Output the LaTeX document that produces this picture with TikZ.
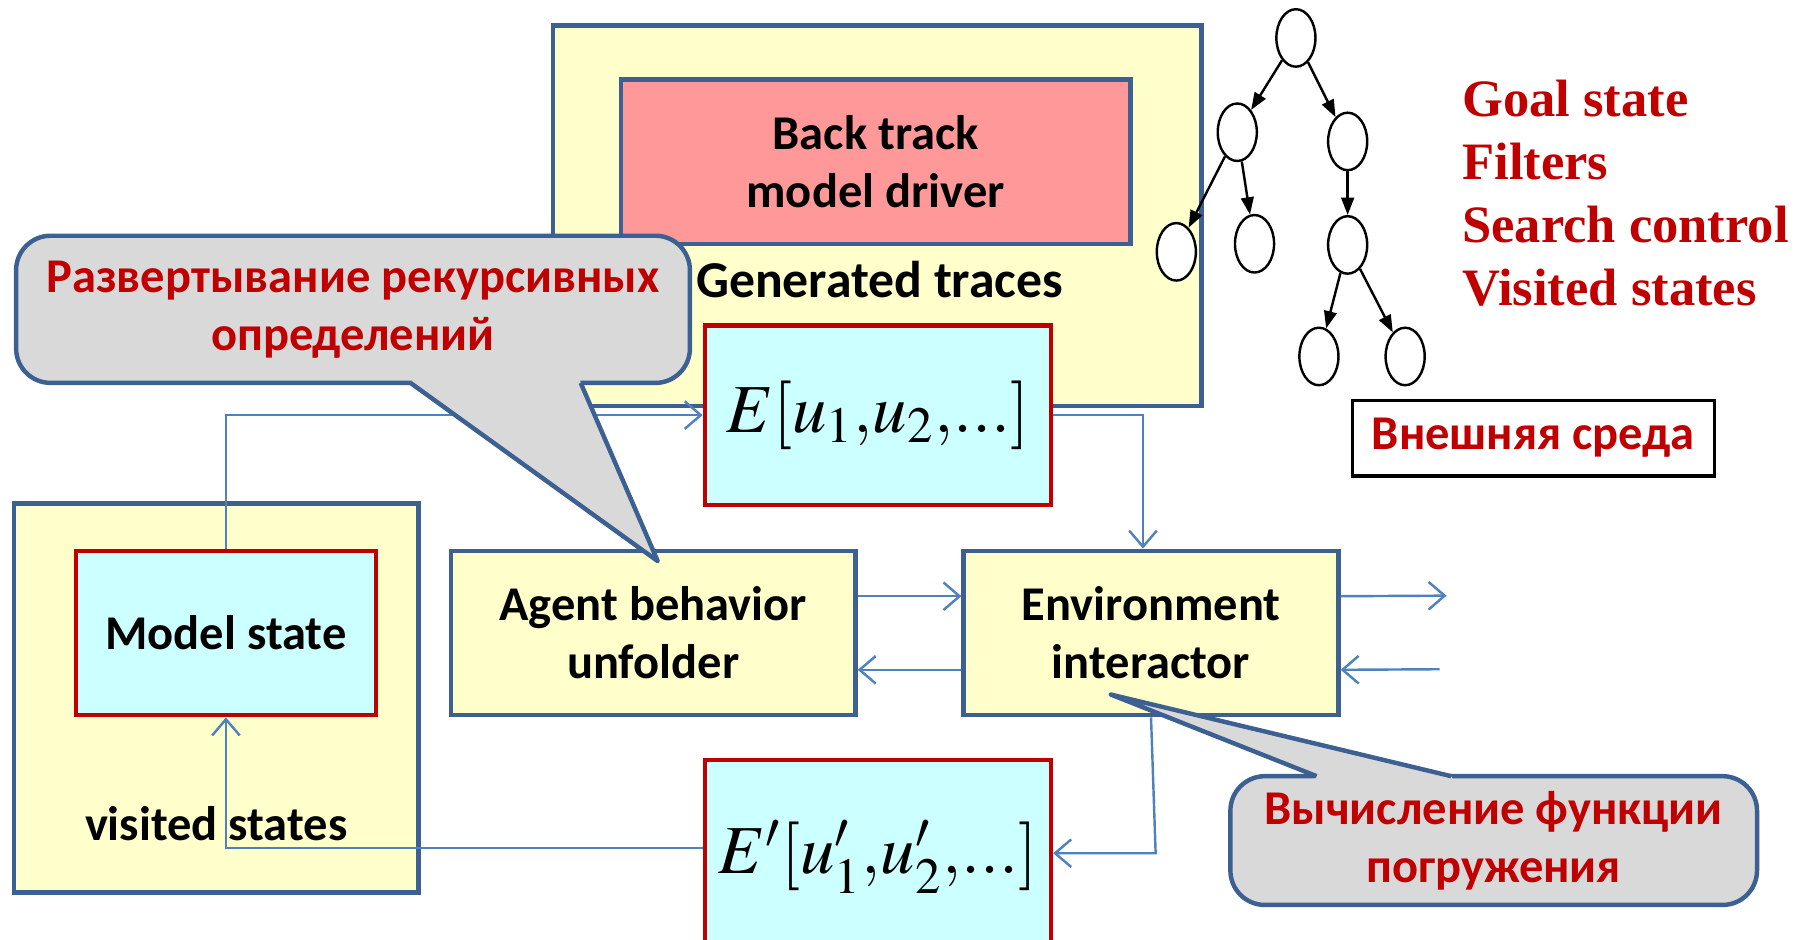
\documentclass[tikz,border=0pt]{standalone}
\usepackage{mathptmx}
\usepackage{fontspec}
\setmainfont{Carlito}
\newfontfamily\timesfont{Liberation Serif}
\usetikzlibrary{positioning,arrows.meta,shapes.geometric}
\definecolor{boxblue}{RGB}{60,96,146}
\definecolor{boxred}{RGB}{192,0,0}
\definecolor{paleyellow}{RGB}{255,255,204}
\definecolor{palecyan}{RGB}{204,255,255}
\definecolor{palepink}{RGB}{255,153,153}
\definecolor{calloutgray}{RGB}{217,217,217}
\definecolor{linkblue}{RGB}{79,129,189}
\newcommand{\labelfont}{\fontsize{12}{14.4}\selectfont\bfseries}
\newcommand{\formulafont}{\fontsize{17}{20}\selectfont}

\begin{document}
\begin{tikzpicture}[
  box/.style={draw=boxblue, line width=1.1pt, fill=paleyellow, align=center, inner sep=0pt, font=\labelfont},
  statebox/.style={box, draw=boxred, fill=palecyan},
  callout/.style={draw=boxblue, line width=1.1pt, fill=calloutgray, rounded corners=3mm, align=center, inner sep=0pt, text=boxred, font=\labelfont},
  pointer/.style={draw=boxblue, line width=1.1pt, line join=round},
  link/.style={draw=linkblue, line width=0.6pt, -{Straight Barb[length=1.4mm,width=2.4mm]}},
  tnode/.style={draw, ellipse, fill=white, line width=0.6pt, minimum width=3.4mm, minimum height=5mm, inner sep=0pt},
  tedge/.style={line width=0.6pt, -{Triangle[length=1.5mm,width=1.1mm]}},
]
\useasboundingbox (0,0) rectangle (15.68,-8.17);

% search part
\node[box, minimum width=5.64cm, minimum height=3.31cm] (traces) at (7.63,-1.875) {};
\node[box, fill=palepink, minimum width=4.43cm, minimum height=1.43cm] (driver) at (7.615,-1.405) {Back track\\model driver};
\node[font={\fontsize{12.8}{15}\selectfont\bfseries}, inner sep=0pt] (gentxt) at (7.65,-2.43) {Generated traces};
\node[statebox, minimum width=3.01cm, minimum height=1.56cm] (Ein) at (7.635,-3.61) {\formulafont$E[u_1{,}u_2{,}...]$};

% tree
\node[tnode] (t0) at (11.27,-0.33) {};
\node[tnode] (t1) at (10.76,-1.15) {};
\node[tnode] (t2) at (11.72,-1.23) {};
\node[tnode] (t11) at (10.23,-2.19) {};
\node[tnode] (t12) at (10.91,-2.12) {};
\node[tnode] (t21) at (11.72,-2.13) {};
\node[tnode] (t211) at (11.47,-3.10) {};
\node[tnode] (t212) at (12.22,-3.10) {};
\draw[tedge] (t0) -- (t1);
\draw[tedge] (t0) -- (t2);
\draw[tedge] (t1) -- (t11);
\draw[tedge] (t1) -- (t12);
\draw[tedge] (t2) -- (t21);
\draw[tedge] (t21) -- (t211);
\draw[tedge] (t21) -- (t212);

\node[anchor=north west, align=left, inner sep=0pt, text=boxred,
  font={\timesfont\bfseries\fontsize{13}{15.6}\selectfont}] (goals) at (12.71,-0.69)
  {Goal state\\Filters\\Search control\\Visited states};
\node[draw, line width=0.8pt, fill=white, text=boxred, font=\labelfont,
  minimum width=3.15cm, minimum height=0.66cm] (ext) at (13.335,-3.81) {Внешняя среда};

% model part
\node[box, minimum width=3.52cm, minimum height=3.38cm] (visited) at (1.88,-6.07) {};
\node[statebox, minimum width=2.61cm, minimum height=1.43cm] (model) at (1.965,-5.505) {Model state};
\node[font=\labelfont, inner sep=0pt] (vistxt) at (1.88,-7.16) {visited states};
\node[box, minimum width=3.52cm, minimum height=1.43cm] (agent) at (5.68,-5.505) {Agent behavior\\unfolder};
\node[box, minimum width=3.26cm, minimum height=1.43cm] (env) at (10.01,-5.505) {Environment\\interactor};
\node[statebox, minimum width=3.01cm, minimum height=1.69cm] (Eout) at (7.635,-7.455) {\raisebox{1.2mm}{\formulafont$E'[u'_1{,}u'_2{,}...]$}};

% links
\coordinate (outR) at (12.58,-5.18);
\coordinate (inR) at (12.52,-5.82);
\coordinate (gbend) at (10.05,-7.42);
\draw[link] (model.north) |- (Ein.west);
\draw[link] (Ein.east) -| ([xshift=-0.7mm]env.north);
\draw[link] ([yshift=3.2mm]agent.east) -- ([yshift=3.2mm]env.west);
\draw[link] ([yshift=-3.2mm]env.west) -- ([yshift=-3.2mm]agent.east);
\draw[link] ([yshift=3.2mm]env.east) -- (outR);
\draw[link] (inR) -- ([yshift=-3.2mm]env.east);
\draw[link] (env.south) -- (gbend) -- (gbend -| Eout.east);
\draw[link] ([yshift=0.8mm]Eout.west) -| (model.south);

% callouts
\node[callout, minimum width=5.86cm, minimum height=1.28cm] (unfoldnote) at (3.07,-2.69) {Развертывание рекурсивных\\определений};
\fill[calloutgray] (3.60,-3.29) -- (3.57,-3.33) -- (5.72,-4.88) -- (5.05,-3.33) -- (5.04,-3.29) -- cycle;
\draw[pointer] (3.57,-3.33) -- (5.72,-4.88) -- (5.05,-3.33);

\node[callout, minimum width=4.58cm, minimum height=1.12cm] (immersenote) at (12.99,-7.31) {Вычисление функции\\погружения};
\fill[calloutgray] (11.42,-6.79) -- (11.45,-6.75) -- (9.66,-6.04) -- (12.62,-6.75) -- (12.64,-6.79) -- cycle;
\draw[pointer] (11.45,-6.75) -- (9.66,-6.04) -- (12.62,-6.75);
\end{tikzpicture}
\end{document}
